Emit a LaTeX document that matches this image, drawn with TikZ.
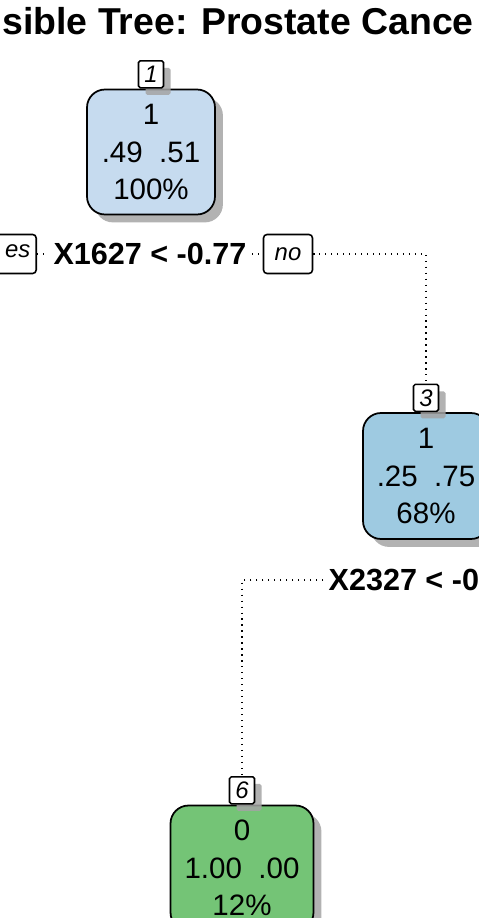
\documentclass[tikz,border=0pt]{standalone}
\usepackage{fontspec}
\setmainfont{Liberation Sans}
\usetikzlibrary{positioning,shadows}
\definecolor{Rootfill}{HTML}{C6DBEF}
\definecolor{Midfill}{HTML}{9ECAE1}
\definecolor{Leaffill}{HTML}{74C476}
\definecolor{Shade}{HTML}{A4A4A4}

\begin{document}
\begin{tikzpicture}[
 x=0.02cm,y=-0.02cm,
 nd/.style={draw=black,line width=1pt,rounded corners=0.36cm,align=center,inner sep=0pt,font=\fontsize{16.8}{21.3}\selectfont,drop shadow={shadow xshift=4.5pt,shadow yshift=-4.5pt,fill=Shade,opacity=0.85}},
 num/.style={draw=black,line width=0.9pt,fill=white,rounded corners=1pt,inner sep=1pt,minimum width=0.5cm,minimum height=0.54cm,font=\fontsize{13.6}{16}\selectfont\itshape,drop shadow={shadow xshift=4pt,shadow yshift=-4pt,fill=Shade,opacity=0.85}},
 lab/.style={draw=black,line width=0.9pt,fill=white,rounded corners=2pt,minimum width=0.98cm,minimum height=0.78cm,font=\fontsize{13.6}{16}\selectfont\itshape},
 split/.style={inner xsep=3pt,font=\fontsize{17.4}{20}\selectfont\bfseries},
 dl/.style={line width=0.7pt,dash pattern=on 0.7pt off 2.7pt}
]
\useasboundingbox (0,0) rectangle (479,918);
\clip (0,0) rectangle (479,918);
% title, cut at both sides
\node[anchor=base west,inner sep=0pt,font=\fontsize{21.3}{25}\selectfont\bfseries] (ttl) at (2,35) {sible Tree: Prostate Cance};
% root
\node[nd,fill=Rootfill,minimum width=2.56cm,minimum height=2.5cm] (n1) at (151,152) {1\\.49\hspace{.556em}.51\\100\%};
\node[num,above=0pt of n1] (t1) {1};
\node[split] (s1) at (150,254) {X1627 < -0.77};
\node[lab,anchor=east] (yes) at (37,254) {\phantom{y}es};
\node[lab] (no) at (288,254) {no};
% right branch
\node[nd,fill=Midfill,minimum width=2.52cm,minimum height=2.52cm] (n3) at (426,476) {1\\.25\hspace{.556em}.75\\68\%};
\node[num,above=0pt of n3] (t3) {3};
\node[split,anchor=west] (s3) at (323,580) {X2327 < -0};
% leaf
\node[nd,fill=Leaffill,minimum width=2.86cm,minimum height=2.5cm] (n6) at (242,868) {0\\1.00\hspace{.556em}.00\\12\%};
\node[num,above=0pt of n6] (t6) {6};
\draw[dl] (yes.east) -- (s1.west);
\draw[dl] (s1.east) -- (no.west);
\draw[dl] (no.east) -| (t3.north);
\draw[dl] (s3.west) -| (t6.north);
\end{tikzpicture}
\end{document}
